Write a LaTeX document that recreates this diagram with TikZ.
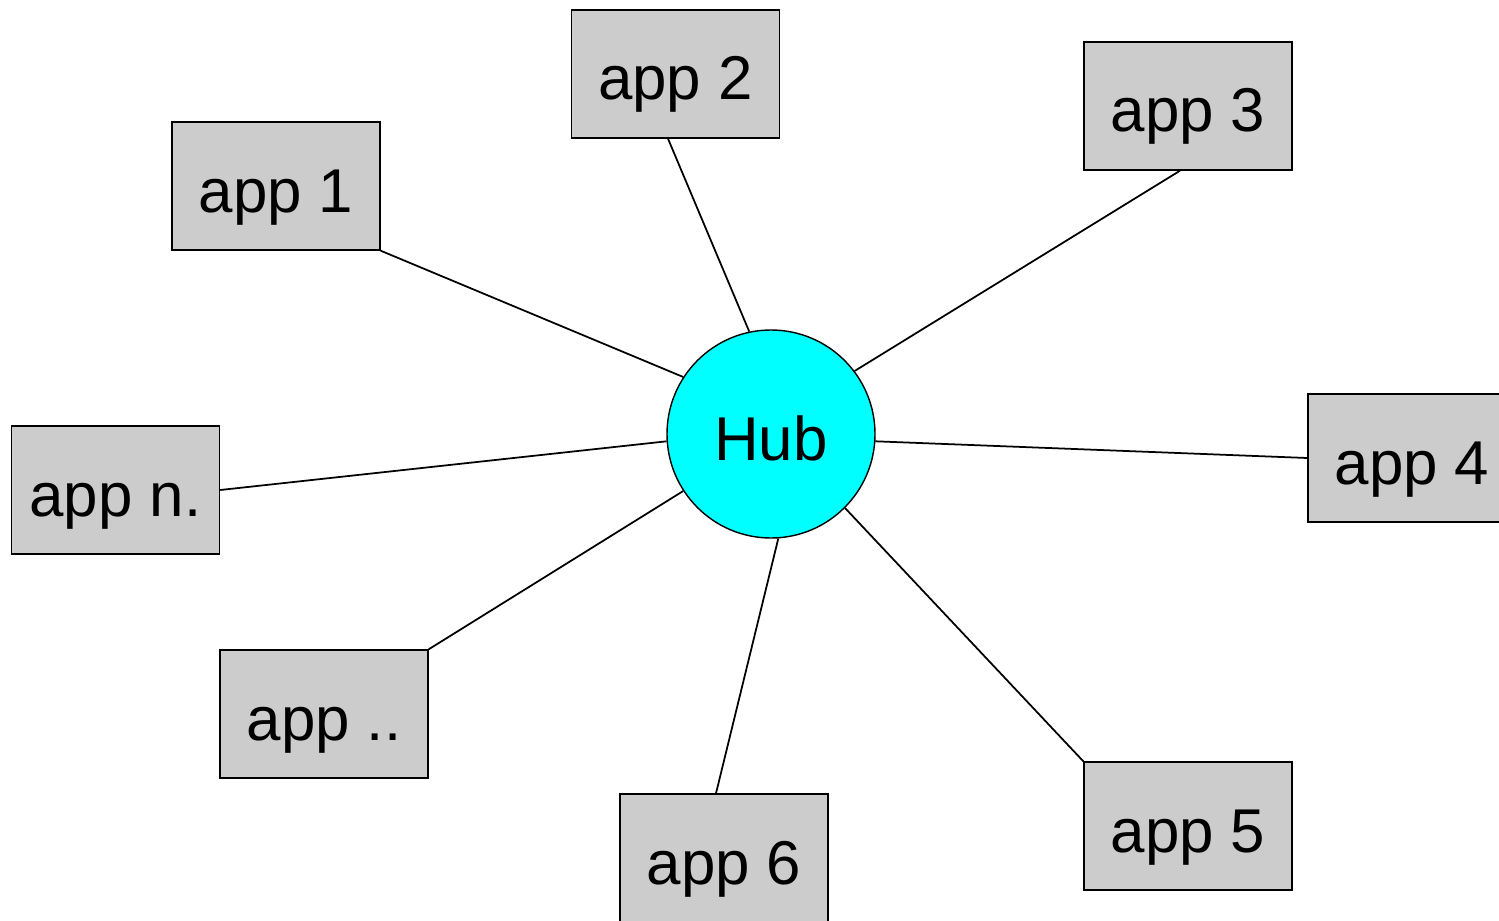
\documentclass[tikz,border=0pt]{standalone}
\usepackage{fontspec}
\setmainfont{Liberation Sans}
\usepackage{tikz}
\usetikzlibrary{positioning}
\definecolor{hubcyan}{RGB}{0,255,255}

\begin{document}
\begin{tikzpicture}[
    app/.style={rectangle,draw=black,fill=black!20,minimum width=2.08cm,minimum height=1.28cm,inner sep=0pt,text height=0.62cm,text depth=0.10cm,font=\fontsize{17.6}{20}\selectfont},
    hubnode/.style={circle,draw=black,fill=hubcyan,minimum size=2.08cm,inner sep=0pt,text height=0.62cm,text depth=0.10cm,font=\fontsize{17.6}{20}\selectfont},
    link/.style={draw=black,line width=0.5pt}]
    \useasboundingbox (0,0) rectangle (14.99,9.2);

    % Hub
    \node[hubnode] (hub) at (7.71,4.86) {Hub};

    % Apps
    \node[app] (app1) at (2.76,7.34) {app 1};
    \node[app] (app2) at (6.755,8.46) {app 2};
    \node[app] (app3) at (11.88,8.14) {app 3};
    \node[app] (app4) at (14.12,4.62) {app 4};
    \node[app] (app5) at (11.88,0.94) {app 5};
    \node[app] (app6) at (7.24,0.62) {app 6};
    \node[app] (appdots) at (3.24,2.06) {app ..};
    \node[app] (appn) at (1.155,4.30) {app n.};

    % Links
    \draw[link] (app1.south east) -- (hub.147);
    \draw[link] ([xshift=-0.075cm]app2.south) -- (hub.102);
    \draw[link] ([xshift=-0.08cm]app3.south) -- (hub.37);
    \draw[link] (app4.west) -- (hub.-4);
    \draw[link] (app5.north west) -- (hub.-45);
    \draw[link] ([xshift=-0.08cm]app6.north) -- (hub.-86);
    \draw[link] (appdots.north east) -- (hub.213);
    \draw[link] (appn.east) -- (hub.184);
\end{tikzpicture}
\end{document}
